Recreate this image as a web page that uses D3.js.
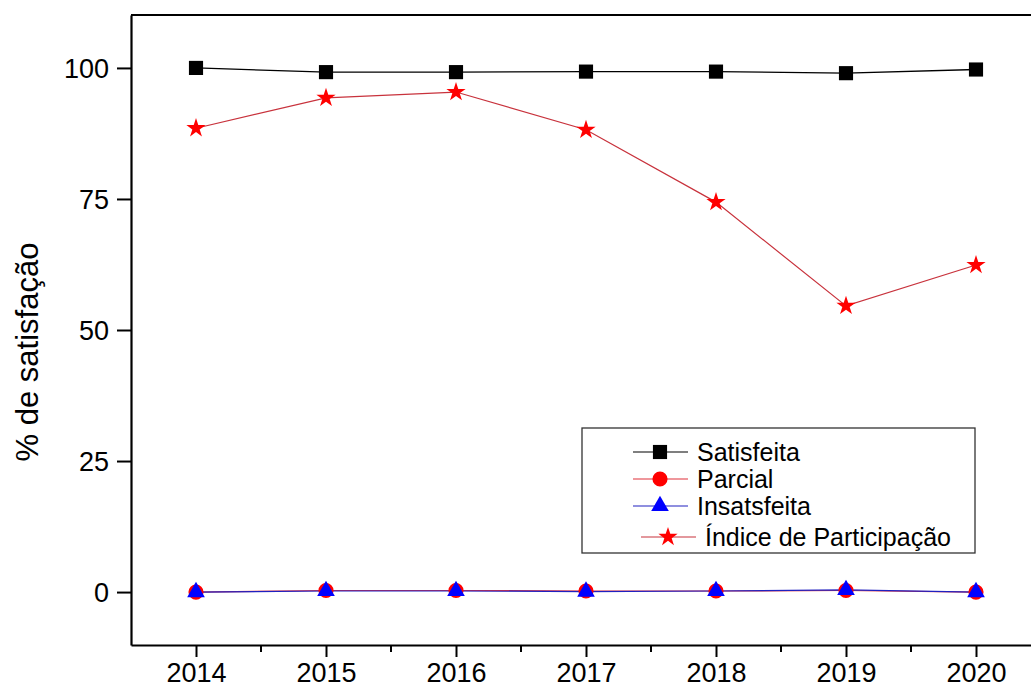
<!DOCTYPE html>
<html><head><meta charset="utf-8">
<script src="https://cdn.jsdelivr.net/npm/d3@7"></script>
<style>body{margin:0;background:#fff}svg{display:block}text{font-family:"Liberation Sans",Arial,sans-serif}</style>
</head><body><svg id="c" width="1031" height="689"></svg>
<script>
const years = [2014, 2015, 2016, 2017, 2018, 2019, 2020];
const satisfeita = [100, 99.2, 99.2, 99.3, 99.3, 99.0, 99.7];
const parcial = [0, 0.3, 0.3, 0.2, 0.2, 0.3, 0];
const insatisfeita = [0, 0.2, 0.2, 0.1, 0.2, 0.4, 0];
const indice = [88.5, 94.3, 95.4, 88.2, 74.4, 54.6, 62.4];
const yTicks = [0, 25, 50, 75, 100];
const seriesNames = ["Satisfeita", "Parcial", "Insatsfeita", "Índice de Participação"];

const svg = d3.select("#c");
const x = d3.scaleLinear().domain([2013.5, 2020.5]).range([131, 1041]);
const y = d3.scaleLinear().domain([-10.1, 110.1]).range([645, 15]);

// frame top
svg.append("line").attr("x1",131).attr("x2",1031).attr("y1",15).attr("y2",15).attr("stroke","#000").attr("stroke-width",2.2);

const xAx = svg.append("g").attr("transform","translate(0,645)")
  .call(d3.axisBottom(x).tickValues(years).tickFormat(d3.format("d")).tickSize(12).tickSizeOuter(0));
const minor = d3.range(2014.5, 2020.5, 1);
svg.append("g").attr("transform","translate(0,645)").selectAll("line").data(minor).join("line")
  .attr("x1",d=>x(d)).attr("x2",d=>x(d)).attr("y1",0).attr("y2",7).attr("stroke","#000").attr("stroke-width",2);
const yAx = svg.append("g").attr("transform","translate(131,0)")
  .call(d3.axisLeft(y).tickValues(yTicks).tickSize(14).tickSizeOuter(0));
[xAx,yAx].forEach(a=>{a.select(".domain").attr("stroke-width",2.2);a.selectAll(".tick line").attr("stroke-width",2);
  a.selectAll("text").attr("font-size",27).attr("fill","#000").attr("font-family","Liberation Sans, Arial, sans-serif");});
xAx.selectAll("text").attr("dy",null).attr("y",37);
yAx.selectAll("text").attr("x",-22).attr("dy","0.36em");

svg.append("text").attr("transform","translate(38,352) rotate(-90)").attr("text-anchor","middle")
  .attr("font-size",31).text("% de satisfação");

const line = d3.line().x((d,i)=>x(years[i])).y(d=>y(d));
const series = [
  {vals: satisfeita, color:"#000", lc:"#000", sym:d3.symbolSquare, size:200, w:1.3},
  {vals: parcial, color:"#ff0000", lc:"#e0303a", sym:d3.symbolCircle, size:180, w:1.2},
  {vals: insatisfeita, color:"#0000ff", lc:"#2020c0", sym:d3.symbolTriangle, size:135, w:1.2},
  {vals: indice, color:"#ff0000", lc:"#c8323c", sym:d3.symbolStar, size:115, w:1.2}
];
series.forEach(s=>{
  svg.append("path").datum(s.vals).attr("d",line).attr("fill","none").attr("stroke",s.lc).attr("stroke-width",s.w);
});
series.forEach(s=>{
  svg.append("g").selectAll("path").data(s.vals).join("path")
    .attr("transform",(d,i)=>`translate(${x(years[i])},${y(d)})`)
    .attr("d",d3.symbol(s.sym,s.size)).attr("fill",s.color);
});

// legend
const lg = svg.append("g");
lg.append("rect").attr("x",582).attr("y",428).attr("width",393).attr("height",125).attr("fill","#fff").attr("stroke","#333").attr("stroke-width",1.3);
const ly = [452, 479, 506, 537];
series.forEach((s,i)=>{
  const off = i===3 ? 8 : 0;
  lg.append("line").attr("x1",633+off).attr("x2",688+off).attr("y1",ly[i]).attr("y2",ly[i]).attr("stroke",s.lc).attr("stroke-width",1.2);
  lg.append("path").attr("transform",`translate(${660+off},${ly[i]})`).attr("d",d3.symbol(s.sym,s.size)).attr("fill",s.color);
  lg.append("text").attr("x",697+off).attr("y",ly[i]).attr("dy","0.35em").attr("font-size",25).text(seriesNames[i]);
});
</script></body></html>
